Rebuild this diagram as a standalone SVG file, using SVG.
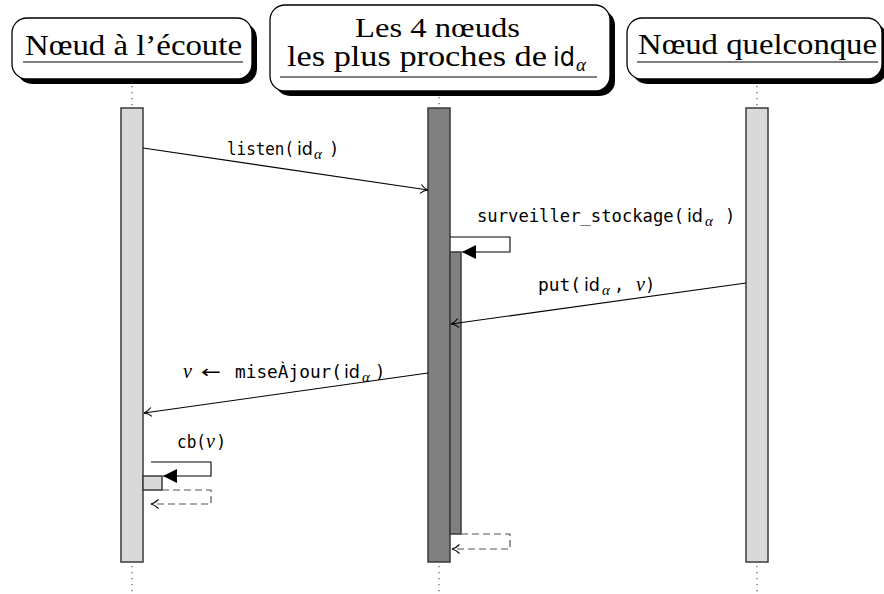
<svg xmlns="http://www.w3.org/2000/svg" width="884" height="594" viewBox="0 0 884 594">
<style>
.box{fill:#fff;stroke:#000;stroke-width:1.3}
.shadow{fill:#000}
.title{font-family:"Liberation Serif","DejaVu Serif",serif;font-size:30px;fill:#000}
.ul{stroke:#000;stroke-width:1.2}
.life{stroke:#666;stroke-width:1.3;stroke-dasharray:1.3 4.7}
.barL{fill:#d9d9d9;stroke:#3a3a3a;stroke-width:1.5}
.barD{fill:#808080;stroke:#3a3a3a;stroke-width:1.5}
.msg{fill:none;stroke:#000;stroke-width:1.1}
.ret{fill:none;stroke:#555;stroke-width:1.2;stroke-dasharray:7 4}
.mono{font-family:"DejaVu Sans Mono","Liberation Mono",monospace;font-size:17px;fill:#000}
.sf{font-family:"DejaVu Sans","Liberation Sans",sans-serif;font-size:17px;fill:#000}
.it{font-family:"Liberation Serif","DejaVu Serif",serif;font-style:italic;font-size:20px;fill:#000}
.sub{font-family:"Liberation Serif","DejaVu Serif",serif;font-style:italic;font-size:15px;fill:#000}
</style>
<defs>
<marker id="open" markerWidth="12" markerHeight="12" refX="10" refY="6" orient="auto" markerUnits="userSpaceOnUse">
<path d="M2.5,1.5 Q6,5 10,6 Q6,7 2.5,10.5" fill="none" stroke="#000" stroke-width="1.1"/>
</marker>
<marker id="filled" markerWidth="16" markerHeight="16" refX="14" refY="7" orient="auto" markerUnits="userSpaceOnUse">
<path d="M0,0 L14,7 L0,14 Z" fill="#000"/>
</marker>
</defs>

<g id="lifelines">
<line class="life" x1="132" y1="86" x2="132" y2="108"/>
<line class="life" x1="132" y1="566" x2="132" y2="594"/>
<line class="life" x1="439" y1="97" x2="439" y2="108"/>
<line class="life" x1="439" y1="566" x2="439" y2="594"/>
<line class="life" x1="757" y1="86" x2="757" y2="108"/>
<line class="life" x1="757" y1="566" x2="757" y2="594"/>
</g>

<g id="node-ecoute">
<rect class="shadow" x="17" y="23" width="240" height="61" rx="15"/>
<rect class="box" x="12" y="18" width="240" height="61" rx="15"/>
<text class="title" x="25" y="55" textLength="217" lengthAdjust="spacingAndGlyphs">Nœud à l’écoute</text>
<line class="ul" x1="23" y1="62" x2="243" y2="62"/>
<rect class="barL" x="121" y="108" width="22" height="454"/>
<rect class="barL" x="143" y="476" width="19" height="14"/>
</g>

<g id="node-proches">
<rect class="shadow" x="275" y="10" width="340" height="86" rx="15"/>
<rect class="box" x="270" y="5" width="340" height="86" rx="15"/>
<text class="title" x="355" y="37" style="font-size:28px" textLength="165" lengthAdjust="spacingAndGlyphs">Les 4 nœuds</text>
<text class="title" x="287" y="66" style="font-size:29px" textLength="260" lengthAdjust="spacingAndGlyphs">les plus proches de</text>
<text class="sf" x="553" y="66" style="font-size:26px" textLength="22" lengthAdjust="spacingAndGlyphs">id</text>
<text class="sub" x="576" y="71" style="font-size:19px">α</text>
<line class="ul" x1="280" y1="77" x2="597" y2="77"/>
<rect class="barD" x="428" y="108" width="22" height="454"/>
<rect class="barD" x="450" y="252" width="11" height="282"/>
</g>

<g id="node-quelconque">
<rect class="shadow" x="632" y="23" width="255" height="61" rx="15"/>
<rect class="box" x="627" y="18" width="255" height="61" rx="15"/>
<text class="title" x="638" y="54" textLength="239" lengthAdjust="spacingAndGlyphs">Nœud quelconque</text>
<line class="ul" x1="637" y1="62" x2="878" y2="62"/>
<rect class="barL" x="746" y="108" width="22" height="454"/>
</g>

<g id="connectors">
<line class="msg" x1="143" y1="148" x2="428" y2="190" marker-end="url(#open)"/>
<path class="msg" d="M450,237 H510 V252 H462" marker-end="url(#filled)"/>
<path class="ret" d="M461,534 H510 V549 H452" marker-end="url(#open)"/>
<line class="msg" x1="746" y1="283" x2="451" y2="324" marker-end="url(#open)"/>
<line class="msg" x1="428" y1="373" x2="144" y2="413" marker-end="url(#open)"/>
<path class="msg" d="M151,462 H211 V476 H163" marker-end="url(#filled)"/>
<path class="ret" d="M162,490 H211 V504 H151" marker-end="url(#open)"/>
</g>

<g id="labels">
<text class="mono" x="227" y="155" textLength="67" lengthAdjust="spacingAndGlyphs">listen(</text>
<text class="sf" x="297" y="155" textLength="16" lengthAdjust="spacingAndGlyphs">id</text>
<text class="sub" x="314" y="159">α</text>
<text class="mono" x="329" y="155">)</text>

<text class="mono" x="477" y="222" textLength="207" lengthAdjust="spacingAndGlyphs">surveiller_stockage(</text>
<text class="sf" x="687" y="222" textLength="16" lengthAdjust="spacingAndGlyphs">id</text>
<text class="sub" x="705" y="226">α</text>
<text class="mono" x="725" y="222">)</text>

<text class="mono" x="538" y="291" textLength="43" lengthAdjust="spacingAndGlyphs">put(</text>
<text class="sf" x="584" y="291" textLength="16" lengthAdjust="spacingAndGlyphs">id</text>
<text class="sub" x="602" y="295">α</text>
<text class="mono" x="614" y="291">,</text>
<text class="it" x="636" y="291">v</text>
<text class="mono" x="645" y="291">)</text>

<text class="it" x="183" y="378">v</text>
<text x="201" y="378" font-family="DejaVu Sans, sans-serif" font-size="18" textLength="20" lengthAdjust="spacingAndGlyphs">←</text>
<text class="mono" x="235" y="378" textLength="107" lengthAdjust="spacingAndGlyphs">miseÀjour(</text>
<text class="sf" x="344" y="378" textLength="16" lengthAdjust="spacingAndGlyphs">id</text>
<text class="sub" x="362" y="382">α</text>
<text class="mono" x="375" y="378">)</text>

<text class="mono" x="177" y="448" textLength="29" lengthAdjust="spacingAndGlyphs">cb(</text>
<text class="it" x="206" y="448">v</text>
<text class="mono" x="216" y="448">)</text>
</g>
</svg>
